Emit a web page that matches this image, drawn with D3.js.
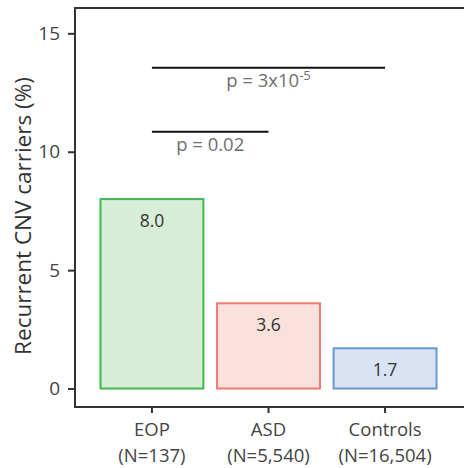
<!DOCTYPE html>
<html>
<head>
<meta charset="utf-8">
<script src="https://cdn.jsdelivr.net/npm/d3@7"></script>
<style>
  html, body { margin: 0; padding: 0; background: #fff; }
  svg { display: block; }
  text { font-family: "Open Sans", "Noto Sans", sans-serif; }
</style>
</head>
<body>
<svg id="chart" width="464" height="468"></svg>
<script>
// Recurrent CNV carrier rates per cohort
const groups = ["EOP", "ASD", "Controls"];
const sizes = ["(N=137)", "(N=5,540)", "(N=16,504)"];
const rates = [8.0, 3.6, 1.7];
const strokes = ["#3dba4e", "#ef7b73", "#6b97d1"];
const fills = ["#d7edd8", "#fbe1db", "#d9e3f3"];
const yTicks = [0, 5, 10, 15];

// Pairwise comparison brackets: from group, to group, height (%), label
const comparisons = [
  { from: "EOP", to: "Controls", level: 13.55, label: "p = 3x10", sup: "-5" },
  { from: "EOP", to: "ASD", level: 10.84, label: "p = 0.02", sup: "" }
];

const svg = d3.select("#chart");
const panel = { left: 75, top: 8, right: 470, bottom: 407 };

const y = d3.scaleLinear().domain([-0.78, 16.07]).range([panel.bottom, panel.top]);
const x = d3.scaleBand().domain(groups).range([75, 462])
  .paddingInner(0.1).paddingOuter(0.21);

// Bars
const bars = svg.append("g");
groups.forEach((g, i) => {
  bars.append("rect")
    .attr("x", x(g) + 1)
    .attr("y", y(rates[i]))
    .attr("width", x.bandwidth() - 2)
    .attr("height", y(0) - y(rates[i]))
    .attr("fill", fills[i])
    .attr("stroke", strokes[i])
    .attr("stroke-width", 2);
  bars.append("text")
    .attr("x", x(g) + x.bandwidth() / 2)
    .attr("y", y(rates[i]) + 28)
    .attr("text-anchor", "middle")
    .attr("font-size", 17.5)
    .attr("fill", "#333")
    .text(rates[i].toFixed(1));
});

// Comparison brackets
const center = g => x(g) + x.bandwidth() / 2;
comparisons.forEach(c => {
  svg.append("line")
    .attr("x1", center(c.from)).attr("x2", center(c.to))
    .attr("y1", y(c.level)).attr("y2", y(c.level))
    .attr("stroke", "#111").attr("stroke-width", 2);
  const t = svg.append("text")
    .attr("x", (center(c.from) + center(c.to)) / 2)
    .attr("y", y(c.level) + 19.5)
    .attr("text-anchor", "middle")
    .attr("font-size", 18.5)
    .attr("fill", "#707070");
  t.append("tspan").text(c.label);
  if (c.sup) {
    t.append("tspan").attr("dy", -7).attr("font-size", 13).text(c.sup);
  }
});

// Y axis
const yAxis = svg.append("g")
  .attr("transform", `translate(${panel.left},0)`)
  .call(d3.axisLeft(y).tickValues(yTicks).tickSize(7).tickPadding(8));
yAxis.select(".domain").remove();
yAxis.selectAll(".tick line").attr("stroke", "#333").attr("stroke-width", 2);
yAxis.selectAll(".tick text").attr("font-size", 19).attr("fill", "#444")
  .attr("font-family", "'Open Sans', 'Noto Sans', sans-serif");

// X axis
const xAxis = svg.append("g")
  .attr("transform", `translate(0,${panel.bottom})`)
  .call(d3.axisBottom(x).tickSize(6).tickFormat(""));
xAxis.select(".domain").remove();
xAxis.selectAll(".tick line").attr("stroke", "#333").attr("stroke-width", 2);
groups.forEach((g, i) => {
  const t = svg.append("text")
    .attr("x", center(g))
    .attr("text-anchor", "middle")
    .attr("font-size", 18.5)
    .attr("fill", "#444");
  t.append("tspan").attr("x", center(g)).attr("y", 436).text(g);
  t.append("tspan").attr("x", center(g)).attr("y", 462).text(sizes[i]);
});

// Panel frame
svg.append("rect")
  .attr("x", panel.left).attr("y", panel.top)
  .attr("width", panel.right - panel.left)
  .attr("height", panel.bottom - panel.top)
  .attr("fill", "none").attr("stroke", "#333").attr("stroke-width", 2);

// Y axis title
svg.append("text")
  .attr("transform", `translate(31,216) rotate(-90)`)
  .attr("text-anchor", "middle")
  .attr("font-size", 22.5)
  .attr("fill", "#333")
  .text("Recurrent CNV carriers (%)");
</script>
</body>
</html>
